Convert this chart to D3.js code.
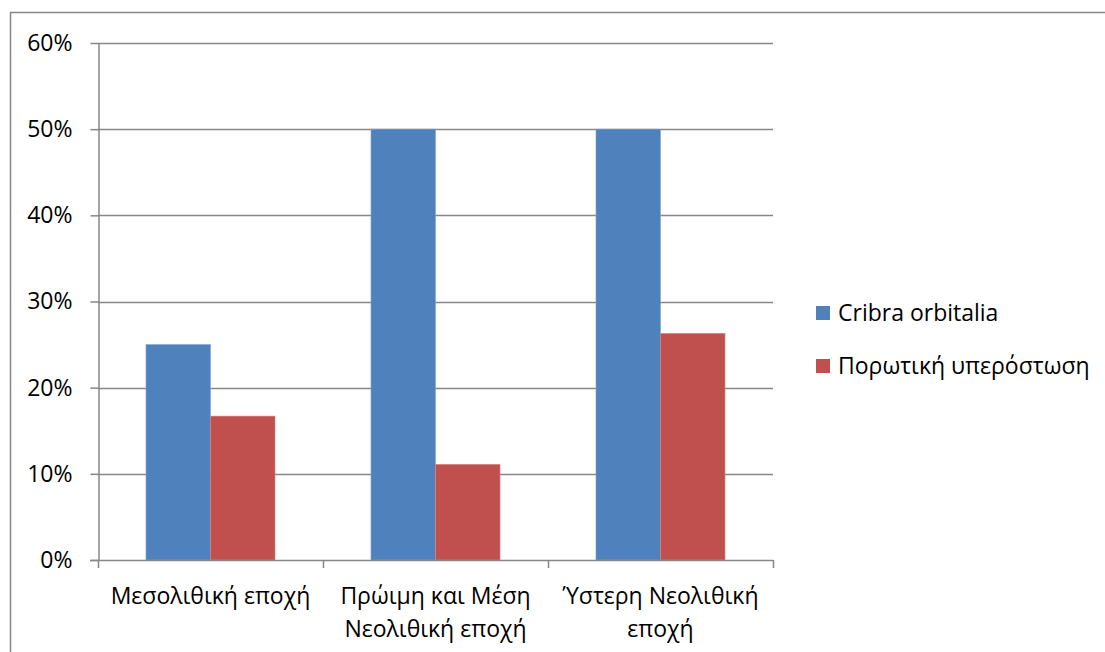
<!DOCTYPE html>
<html>
<head>
<meta charset="utf-8">
<script src="https://cdn.jsdelivr.net/npm/d3@7"></script>
<style>
  html, body { margin: 0; padding: 0; background: #fff; }
  svg { display: block; }
  text { font-family: "Open Sans", "Noto Sans", sans-serif; fill: #000; }
</style>
</head>
<body>
<svg id="chart" width="1105" height="652"></svg>
<script>
// Periods (x categories), each label split into lines
const categories = ["Μεσολιθική εποχή", "Πρώιμη και Μέση Νεολιθική εποχή", "Ύστερη Νεολιθική εποχή"];
const categoryLines = [["Μεσολιθική εποχή"], ["Πρώιμη και Μέση", "Νεολιθική εποχή"], ["Ύστερη Νεολιθική", "εποχή"]];
const seriesNames = ["Cribra orbitalia", "Πορωτική υπερόστωση"];
const cribraValues = [0.25, 0.50, 0.50];
const porotiValues = [0.167, 0.111, 0.263];
const yTicks = [0, 0.1, 0.2, 0.3, 0.4, 0.5, 0.6];
const colors = ["#4F81BD", "#C0504D"];

(function () {
const svg = d3.select("#chart");
const fontSize = 23;

// outer chart frame (extends past the right/bottom edge)
svg.append("rect")
  .attr("x", 10.5).attr("y", 12.5)
  .attr("width", 1200).attr("height", 800)
  .attr("fill", "none").attr("stroke", "#868686").attr("stroke-width", 1.5);

const plotLeft = 98, plotRight = 773, plotTop = 43, plotBottom = 560;

const x = d3.scaleBand().domain(categories).range([plotLeft, plotRight]).paddingInner(0).paddingOuter(0);
const xSub = d3.scaleBand().domain(seriesNames).range([0, x.bandwidth()]).paddingInner(0).paddingOuter(0.744);
const y = d3.scaleLinear().domain([0, 0.6]).range([plotBottom, plotTop]);

// horizontal gridlines
svg.append("g").selectAll("line").data(yTicks.filter(d => d > 0)).join("line")
  .attr("x1", plotLeft).attr("x2", plotRight)
  .attr("y1", d => Math.round(y(d)) + 0.5).attr("y2", d => Math.round(y(d)) + 0.5)
  .attr("stroke", "#878787").attr("stroke-width", 1.5);

// bars
const series = [cribraValues, porotiValues];
const groups = svg.append("g");
categories.forEach((c, i) => {
  series.forEach((vals, s) => {
    groups.append("rect")
      .attr("x", x(c) + xSub(seriesNames[s]))
      .attr("y", y(vals[i]))
      .attr("width", xSub.bandwidth())
      .attr("height", y(0) - y(vals[i]))
      .attr("fill", colors[s])
      .attr("stroke", s === 0 ? "#7FA3D1" : "#D98482")
      .attr("stroke-width", 0.6);
  });
});

// y axis
const yAxis = d3.axisLeft(y).tickValues(yTicks).tickFormat(d3.format(".0%")).tickSizeInner(8).tickSizeOuter(0).tickPadding(18);
const gy = svg.append("g").attr("transform", `translate(${plotLeft + 0.5},0)`).call(yAxis);
gy.attr("font-size", fontSize).attr("font-family", "'Open Sans', sans-serif");
gy.select(".domain").attr("stroke", "#878787").attr("stroke-width", 1.5);
gy.selectAll(".tick line").attr("stroke", "#878787").attr("stroke-width", 1.5);
gy.selectAll(".tick text").attr("fill", "#000");

// x axis baseline and category separators
const gx = svg.append("g");
gx.append("line").attr("x1", plotLeft - 8).attr("x2", plotRight).attr("y1", plotBottom + 0.5).attr("y2", plotBottom + 0.5)
  .attr("stroke", "#878787").attr("stroke-width", 1.5);
const edges = categories.map(c => x(c)).concat([x(categories[categories.length - 1]) + x.bandwidth()]);
gx.selectAll("line.sep").data(edges).join("line").attr("class", "sep")
  .attr("x1", d => Math.round(d) + 0.5).attr("x2", d => Math.round(d) + 0.5)
  .attr("y1", plotBottom).attr("y2", plotBottom + 8)
  .attr("stroke", "#878787").attr("stroke-width", 1.5);

// category labels
categories.forEach((c, i) => {
  const cx = x(c) + x.bandwidth() / 2;
  const t = gx.append("text")
    .attr("x", cx)
    .attr("y", 604)
    .attr("text-anchor", "middle")
    .style("font-size", fontSize + "px");
  categoryLines[i].forEach((ln, k) => {
    t.append("tspan").attr("x", cx).attr("dy", k === 0 ? 0 : 33).text(ln);
  });
});

// legend
const legend = svg.append("g");
seriesNames.forEach((n, s) => {
  const ly = 313 + s * 53;
  legend.append("rect").attr("x", 816).attr("y", ly - 7).attr("width", 14).attr("height", 14).attr("fill", colors[s]);
  legend.append("text").attr("x", 838).attr("y", ly + 7.5).style("font-size", fontSize + "px").text(n);
});
})();
</script>
</body>
</html>
